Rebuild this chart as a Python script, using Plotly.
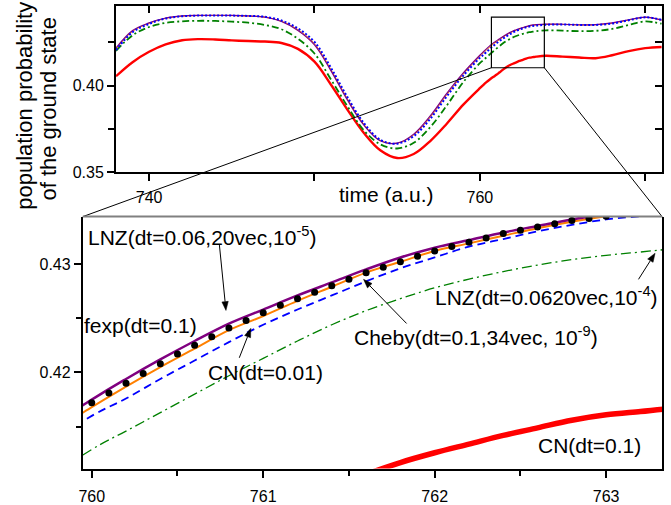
import math
import plotly.graph_objects as go

# ---------------------------------------------------------------------------
# Data: ground-state population vs. time for several propagators
# ---------------------------------------------------------------------------
time = [738, 739, 740, 741, 742, 743, 744, 745, 746, 747, 748, 749, 750, 751,
        752, 753, 754, 755, 756, 757, 758, 759,
        760.0, 760.2, 760.4, 760.6, 760.8, 761.0, 761.2, 761.4, 761.6, 761.8,
        762.0, 762.2, 762.4, 762.6, 762.8, 763.0, 763.2, 763.4,
        764, 765, 766, 767, 768, 769, 770, 771]

# LNZ(dt=0.06, 20vec, 1e-5)
lnz_1e5 = [0.4218, 0.4318, 0.4362, 0.4390, 0.4402, 0.4405, 0.4406, 0.4405, 0.4402, 0.4395,
           0.4370, 0.4318, 0.4235, 0.4085, 0.3915, 0.3770, 0.3680, 0.3668, 0.3720, 0.3825,
           0.3955, 0.4073,
           0.4175, 0.4194, 0.4212, 0.4229, 0.4245, 0.4258, 0.4271, 0.4283, 0.4295, 0.4306,
           0.4315, 0.4322, 0.4329, 0.4335, 0.4341, 0.4346, 0.4350, 0.4352,
           0.4355, 0.4354, 0.4351, 0.4352, 0.4362, 0.4380, 0.4395, 0.4378]

# Cheby(dt=0.1, 34vec, 1e-9)
cheby = [0.4211, 0.4313, 0.4359, 0.4388, 0.4401, 0.4404, 0.4405, 0.4404, 0.4401, 0.4395,
         0.4372, 0.4323, 0.4242, 0.4092, 0.3922, 0.3775, 0.3683, 0.3667, 0.3715, 0.3817,
         0.3947, 0.4066,
         0.4168, 0.4187, 0.4205, 0.4222, 0.4239, 0.4252, 0.4266, 0.4279, 0.4292, 0.4302,
         0.4312, 0.4319, 0.4326, 0.4333, 0.4339, 0.4344, 0.4348, 0.4350,
         0.4353, 0.4353, 0.4350, 0.4351, 0.4360, 0.4378, 0.4394, 0.4378]

# CN(dt=0.01)
cn_001 = [0.4205, 0.4308, 0.4356, 0.4387, 0.4400, 0.4404, 0.4405, 0.4404, 0.4402, 0.4397,
          0.4376, 0.4330, 0.4252, 0.4102, 0.3932, 0.3782, 0.3686, 0.3665, 0.3708, 0.3808,
          0.3938, 0.4058,
          0.4160, 0.4176, 0.4194, 0.4211, 0.4228, 0.4244, 0.4258, 0.4271, 0.4284, 0.4296,
          0.4306, 0.4316, 0.4323, 0.4330, 0.4336, 0.4341, 0.4344, 0.4346,
          0.4351, 0.4353, 0.4350, 0.4350, 0.4358, 0.4377, 0.4394, 0.4380]

# LNZ(dt=0.06, 20vec, 1e-4)
lnz_1e4 = [0.4200, 0.4290, 0.4338, 0.4362, 0.4371, 0.4374, 0.4373, 0.4369, 0.4363, 0.4350,
           0.4325, 0.4270, 0.4185, 0.4035, 0.3880, 0.3740, 0.3660, 0.3637, 0.3670, 0.3760,
           0.3885, 0.4020,
           0.4129, 0.4146, 0.4163, 0.4180, 0.4197, 0.4213, 0.4229, 0.4244, 0.4257, 0.4268,
           0.4278, 0.4286, 0.4293, 0.4299, 0.4304, 0.4308, 0.4311, 0.4314,
           0.4319, 0.4317, 0.4314, 0.4316, 0.4327, 0.4350, 0.4370, 0.4357]

# CN(dt=0.1)
cn_01 = [0.4054, 0.4135, 0.4195, 0.4238, 0.4262, 0.4268, 0.4266, 0.4261, 0.4257, 0.4254,
         0.4246, 0.4212, 0.4138, 0.4005, 0.3860, 0.3725, 0.3625, 0.3582, 0.3605, 0.3680,
         0.3780, 0.3890,
         0.3985, 0.4003, 0.4020, 0.4035, 0.4049, 0.4062, 0.4077, 0.4092, 0.4106, 0.4117,
         0.4126, 0.4134, 0.4142, 0.4149, 0.4156, 0.4161, 0.4164, 0.4167,
         0.4172, 0.4167, 0.4162, 0.4158, 0.4175, 0.4199, 0.4216, 0.4223]

# fexp(dt=0.1): one sample per time step
fexp_time = [760.0, 760.1, 760.2, 760.3, 760.4, 760.5, 760.6, 760.7, 760.8, 760.9,
             761.0, 761.1, 761.2, 761.3, 761.4, 761.5, 761.6, 761.7, 761.8, 761.9,
             762.0, 762.1, 762.2, 762.3, 762.4, 762.5, 762.6, 762.7, 762.8, 762.9,
             763.0, 763.1, 763.2, 763.3]
fexp = [0.4172, 0.4181, 0.4190, 0.4199, 0.4208, 0.4217, 0.4225, 0.4233, 0.4241, 0.4248,
        0.4255, 0.4262, 0.4268, 0.4274, 0.4280, 0.4286, 0.4292, 0.4297, 0.4302, 0.4307,
        0.4312, 0.4316, 0.4320, 0.4324, 0.4328, 0.4331, 0.4334, 0.4337, 0.4340, 0.4342,
        0.4344, 0.4346, 0.4348, 0.4349]

# axis ranges
top_x_range = [738, 771]
top_y_range = [0.35, 0.446]
zoom_x_range = [759.948, 763.326]
zoom_y_range = [0.411147, 0.434363]
# region marked in the overview panel
zoom_box_x = [760.7, 763.9]
zoom_box_y = [0.4103, 0.4395]

# ---------------------------------------------------------------------------
# Layout geometry (pixels of a 671 x 505 canvas)
# ---------------------------------------------------------------------------
W, H = 671, 505
FONT = "Liberation Sans, Arial, sans-serif"


def fx(p):
    return p / W


def fy(p):
    return 1 - p / H


top_dom_x = [fx(112.7), fx(661.7)]
top_dom_y = [fy(175.7), fy(6)]
bot_dom_x = [fx(79.3), fx(662)]
bot_dom_y = [fy(478), fy(221)]


def top_to_paper(xv, yv):
    """Convert overview-panel data coordinates to paper coordinates."""
    px = top_dom_x[0] + (xv - top_x_range[0]) / (top_x_range[1] - top_x_range[0]) * (top_dom_x[1] - top_dom_x[0])
    py = top_dom_y[0] + (yv - top_y_range[0]) / (top_y_range[1] - top_y_range[0]) * (top_dom_y[1] - top_dom_y[0])
    return px, py


RED = "#ff0000"
PURPLE = "#800080"
ORANGE = "#ff8000"
BLUE = "#0000ff"
GREEN = "#008000"

fig = go.Figure()

# --- overview panel -------------------------------------------------------
fig.add_trace(go.Scatter(x=time, y=cn_01, mode="lines", line=dict(color=RED, width=2.4, shape="spline"),
                         xaxis="x", yaxis="y"))
fig.add_trace(go.Scatter(x=time, y=lnz_1e4, mode="lines",
                         line=dict(color=GREEN, width=1.8, dash="7px,3px,2px,3px", shape="spline"),
                         xaxis="x", yaxis="y"))
fig.add_trace(go.Scatter(x=time, y=cheby, mode="lines", line=dict(color=ORANGE, width=1, shape="spline"),
                         xaxis="x", yaxis="y"))
fig.add_trace(go.Scatter(x=time, y=lnz_1e5, mode="lines", line=dict(color=PURPLE, width=1.2, shape="spline"),
                         xaxis="x", yaxis="y"))
fig.add_trace(go.Scatter(x=time, y=cn_001, mode="lines",
                         line=dict(color=BLUE, width=2, dash="2px,2px", shape="spline"),
                         xaxis="x", yaxis="y"))
# carries the inward ticks on the top and right edges
fig.add_trace(go.Scatter(x=[None], y=[None], mode="lines", xaxis="x3", yaxis="y3", hoverinfo="skip"))

# --- zoomed panel ---------------------------------------------------------
fig.add_trace(go.Scatter(x=time, y=lnz_1e4, mode="lines",
                         line=dict(color=GREEN, width=1.3, dash="10px,4px,2px,4px", shape="spline"),
                         xaxis="x2", yaxis="y2"))
fig.add_trace(go.Scatter(x=time, y=cn_001, mode="lines",
                         line=dict(color=BLUE, width=1.8, dash="8px,5px", shape="spline"),
                         xaxis="x2", yaxis="y2"))
fig.add_trace(go.Scatter(x=time, y=cheby, mode="lines", line=dict(color=ORANGE, width=2, shape="spline"),
                         xaxis="x2", yaxis="y2"))
fig.add_trace(go.Scatter(x=time, y=lnz_1e5, mode="lines", line=dict(color=PURPLE, width=2.5, shape="spline"),
                         xaxis="x2", yaxis="y2"))
fig.add_trace(go.Scatter(x=fexp_time, y=fexp, mode="markers", marker=dict(color="black", size=7),
                         xaxis="x2", yaxis="y2"))
fig.add_trace(go.Scatter(x=time, y=cn_01, mode="lines", line=dict(color=RED, width=5.5, shape="spline"),
                         xaxis="x2", yaxis="y2"))

tickfont = dict(family=FONT, size=16, color="black")
tick_common = dict(ticks="outside", ticklen=7, tickwidth=1.5, tickcolor="black",
                   showgrid=False, zeroline=False)

fig.update_layout(
    width=W, height=H,
    margin=dict(l=0, r=0, t=0, b=0),
    paper_bgcolor="white", plot_bgcolor="white",
    showlegend=False,
    xaxis=dict(domain=top_dom_x, anchor="y", range=top_x_range, tick0=740, dtick=20,
               minor=dict(tick0=740, dtick=10, ticks="outside", ticklen=7, tickwidth=1.5,
                          tickcolor="black", showgrid=False),
               showline=True, linecolor="black", linewidth=2, mirror=True,
               tickfont=tickfont, ticklabelstandoff=3, **tick_common),
    yaxis=dict(domain=top_dom_y, anchor="x", range=top_y_range, tick0=0.35, dtick=0.05,
               tickformat=".2f",
               minor=dict(tick0=0.35, dtick=0.025, ticks="outside", ticklen=6, tickwidth=1.5,
                          tickcolor="black", showgrid=False),
               showline=True, linecolor="black", linewidth=2, mirror=True,
               tickfont=tickfont, **tick_common),
    xaxis3=dict(overlaying="x", side="top", anchor="y", range=top_x_range, tick0=740, dtick=10,
                ticks="inside", ticklen=7, tickwidth=1.5, tickcolor="black",
                showticklabels=False, showline=False, showgrid=False, zeroline=False),
    yaxis3=dict(overlaying="y", side="right", anchor="x", range=top_y_range, tick0=0.35, dtick=0.025,
                ticks="inside", ticklen=7, tickwidth=1.5, tickcolor="black",
                showticklabels=False, showline=False, showgrid=False, zeroline=False),
    xaxis2=dict(domain=bot_dom_x, anchor="y2", range=zoom_x_range, tick0=760, dtick=1,
                minor=dict(dtick=0.5, tick0=760, ticks="outside", ticklen=5, tickwidth=1.5,
                           tickcolor="black", showgrid=False),
                showline=True, linecolor="black", linewidth=2, mirror=False,
                tickfont=tickfont, ticklabelstandoff=5, **tick_common),
    yaxis2=dict(domain=bot_dom_y, anchor="x2", range=zoom_y_range, tick0=0.42, dtick=0.01,
                tickformat=".2f",
                minor=dict(dtick=0.005, tick0=0.42, ticks="outside", ticklen=5, tickwidth=1.5,
                           tickcolor="black", showgrid=False),
                showline=True, linecolor="black", linewidth=2, mirror=True,
                tickfont=tickfont, **tick_common),
)

# --- zoom box and connecting lines ---------------------------------------
fig.add_shape(type="rect", xref="x", yref="y", x0=zoom_box_x[0], x1=zoom_box_x[1],
              y0=zoom_box_y[0], y1=zoom_box_y[1], line=dict(color="black", width=1.2))
bl = top_to_paper(zoom_box_x[0], zoom_box_y[0])
br = top_to_paper(zoom_box_x[1], zoom_box_y[0])
fig.add_shape(type="line", xref="paper", yref="paper", x0=bl[0], y0=bl[1],
              x1=bot_dom_x[0], y1=bot_dom_y[1], line=dict(color="black", width=1))
fig.add_shape(type="line", xref="paper", yref="paper", x0=br[0], y0=br[1],
              x1=bot_dom_x[1], y1=bot_dom_y[1], line=dict(color="black", width=1))
# upper edge of the zoomed frame
fig.add_shape(type="line", xref="paper", yref="paper", x0=bot_dom_x[0], y0=bot_dom_y[1],
              x1=bot_dom_x[1], y1=bot_dom_y[1], line=dict(color="#808080", width=2))

# --- axis titles -----------------------------------------------------------
title_font = dict(family=FONT, size=21, color="black")
fig.add_annotation(text="time (a.u.)", xref="paper", yref="paper", x=fx(385), y=fy(198),
                   xanchor="center", yanchor="middle", showarrow=False, font=title_font)
ytitle_font = dict(family=FONT, size=22, color="black")
fig.add_annotation(text="population probability", xref="paper", yref="paper", x=fx(21), y=fy(108),
                   xanchor="center", yanchor="middle", textangle=-90, showarrow=False, font=ytitle_font)
fig.add_annotation(text="of the ground state", xref="paper", yref="paper", x=fx(45), y=fy(111),
                   xanchor="center", yanchor="middle", textangle=-90, showarrow=False, font=ytitle_font)

# --- method labels ---------------------------------------------------------
label_font = dict(family=FONT, size=21, color="black")
labels = [
    ("LNZ(dt=0.06,20vec,10<sup>-5</sup>)", 84, 241),
    ("fexp(dt=0.1)", 79, 332),
    ("CN(dt=0.01)", 204, 380),
    ("Cheby(dt=0.1,34vec, 10<sup>-9</sup>)", 351, 343),
    ("LNZ(dt=0.0620vec,10<sup>-4</sup>)", 433, 302),
    ("CN(dt=0.1)", 536, 455),
]
for text, lx, ly in labels:
    fig.add_annotation(text=text, xref="paper", yref="paper", x=fx(lx), y=fy(ly),
                       xanchor="left", yanchor="middle", showarrow=False, font=label_font,
                       borderpad=0)

# pointer arrows: (tip, tail) in canvas pixels, drawn as a shaft plus a filled head
arrows = [
    ((223.3, 316.7), (216.7, 250)),
    ((248.3, 335), (236.7, 365)),
    ((361.7, 285), (405, 330)),
    ((655, 258.3), (638.3, 285)),
]
HEAD_LEN, HEAD_HALF = 9.0, 3.2
for (tx, ty), (sx, sy) in arrows:
    dx, dy = tx - sx, ty - sy
    n = math.hypot(dx, dy)
    ux, uy = dx / n, dy / n
    bx, by = tx - ux * HEAD_LEN, ty - uy * HEAD_LEN
    fig.add_shape(type="line", xref="paper", yref="paper", x0=fx(sx), y0=fy(sy),
                  x1=fx(bx), y1=fy(by), line=dict(color="black", width=1))
    p1 = (bx - uy * HEAD_HALF, by + ux * HEAD_HALF)
    p2 = (bx + uy * HEAD_HALF, by - ux * HEAD_HALF)
    path = "M {:.5f} {:.5f} L {:.5f} {:.5f} L {:.5f} {:.5f} Z".format(
        fx(tx), fy(ty), fx(p1[0]), fy(p1[1]), fx(p2[0]), fy(p2[1]))
    fig.add_shape(type="path", xref="paper", yref="paper", path=path,
                  fillcolor="black", line=dict(color="black", width=0.5))

fig.write_html("out.html")
